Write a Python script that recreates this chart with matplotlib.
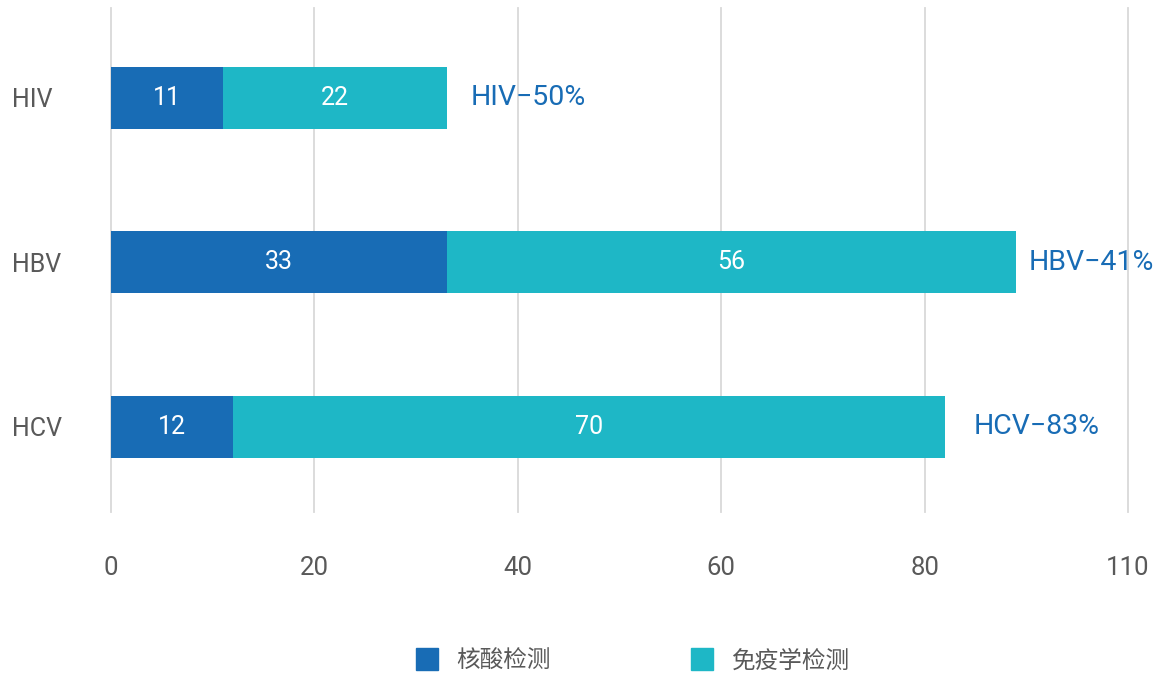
import matplotlib
matplotlib.use("Agg")
import matplotlib.pyplot as plt
from matplotlib.lines import Line2D

plt.rcParams['font.family'] = ['Roboto', 'Noto Sans CJK SC', 'DejaVu Sans']

categories = ["HIV", "HBV", "HCV"]
nucleic = [11, 33, 12]
immuno = [22, 56, 70]
rate_labels = ["HIV\u221250%", "HBV\u221241%", "HCV\u221283%"]
series_names = ["核酸检测", "免疫学检测"]
xticks = [0, 20, 40, 60, 80, 100]
xtick_labels = ["0", "20", "40", "60", "80", "110"]

c_dark = "#186cb5"
c_teal = "#1eb7c6"
grid_c = "#d9d9d9"
txt_c = "#595959"

W, H = 1161, 675
fig = plt.figure(figsize=(W / 100, H / 100), dpi=100)
ax = fig.add_axes([111 / W, (H - 512) / H, (1128 - 111) / W, (512 - 8) / H])

ypos = list(range(len(categories)))
bh = 0.377
ax.barh(ypos, nucleic, height=bh, color=c_dark, zorder=3)
ax.barh(ypos, immuno, left=nucleic, height=bh, color=c_teal, zorder=3)

for y, a, b in zip(ypos, nucleic, immuno):
    ax.text(a / 2, y, str(a), ha="center", va="center", color="white", fontsize=18, zorder=4)
    ax.text(a + b / 2, y, str(b), ha="center", va="center", color="white", fontsize=18, zorder=4)

offsets_px = [24, 12, 29]
for y, a, b, lab, off in zip(ypos, nucleic, immuno, rate_labels, offsets_px):
    ax.annotate(lab, xy=(a + b, y), xytext=(off * 0.72, 0), textcoords="offset points",
                ha="left", va="center", color=c_dark, fontsize=20.5, zorder=4)

for xt in xticks:
    ax.axvline(xt, color=grid_c, lw=1.3, zorder=1, clip_on=False)

ax.set_xlim(0, 100)
ax.set_ylim(2.517, -0.547)
ax.set_xticks(xticks)
ax.set_xticklabels(xtick_labels, color=txt_c, fontsize=18.5)
ax.set_yticks(ypos)
ax.set_yticklabels(categories, color=txt_c, fontsize=18, ha="left")
ax.tick_params(axis="x", length=0, pad=32)
ax.tick_params(axis="y", length=0, pad=99 * 0.72)
for s in ax.spines.values():
    s.set_visible(False)

handles = [Line2D([], [], marker="s", linestyle="none", markersize=16, color=c)
           for c in (c_dark, c_teal)]
fig.legend(handles, series_names, loc="center", bbox_to_anchor=(632 / W, 1 - 661 / H),
           ncol=2, frameon=False, fontsize=17, labelcolor=txt_c, handlelength=1.0,
           handletextpad=0.75, columnspacing=5.9)

fig.savefig("out.png", dpi=100)
